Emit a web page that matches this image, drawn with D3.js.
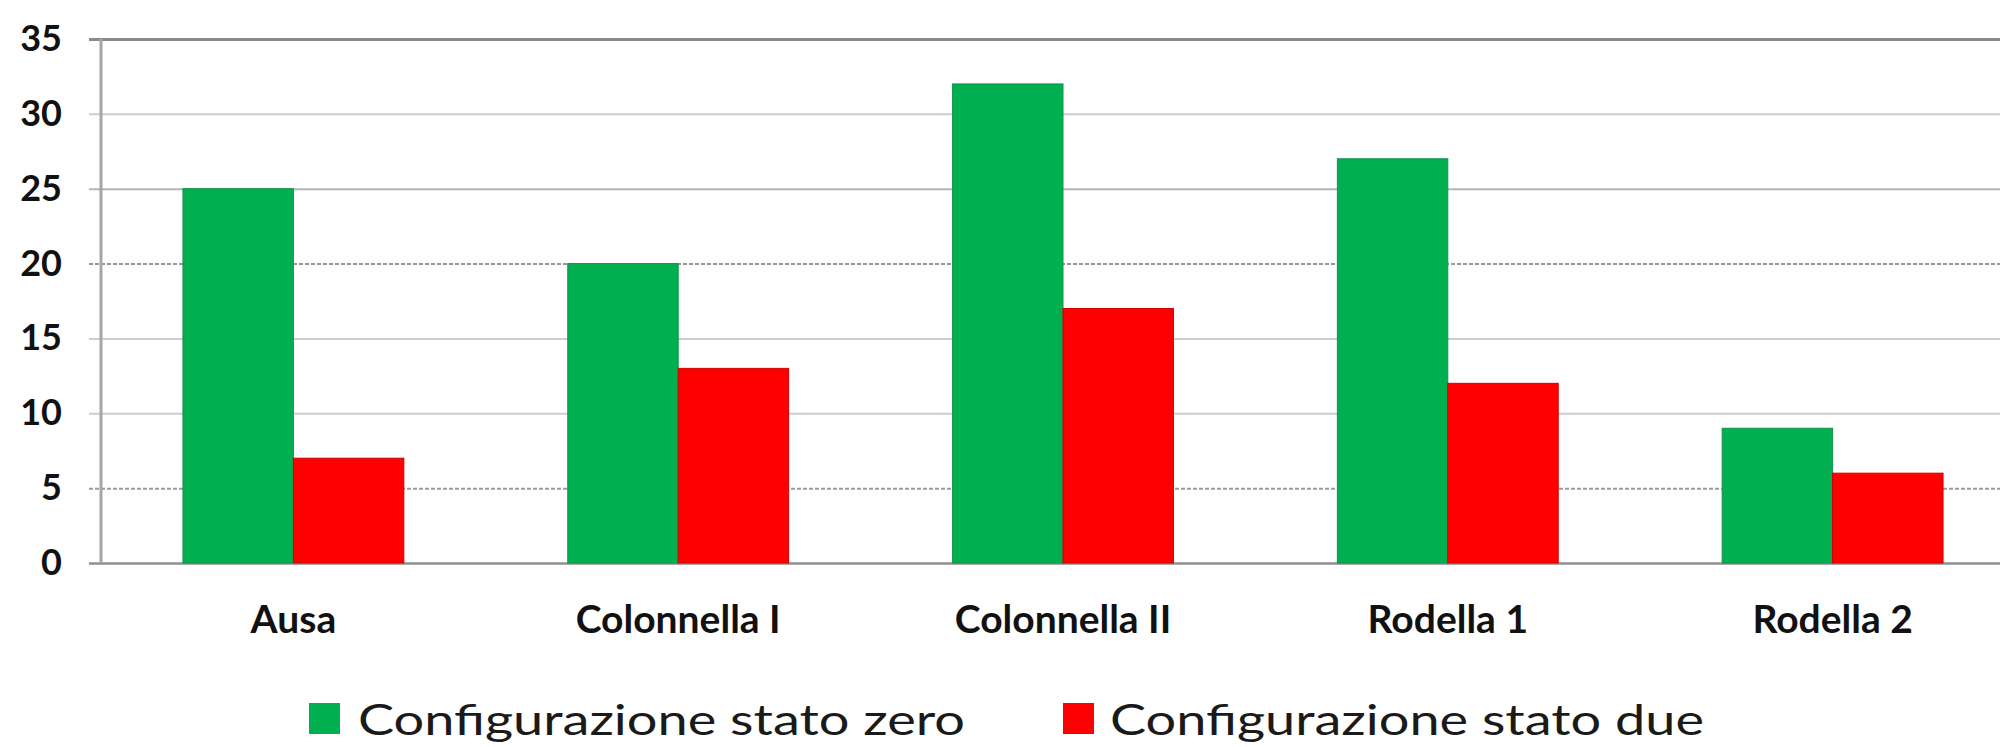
<!DOCTYPE html>
<html>
<head>
<meta charset="utf-8">
<script src="https://cdn.jsdelivr.net/npm/d3@7"></script>
<style>
  html, body { margin: 0; padding: 0; background: #fff; }
  svg { display: block; }
</style>
</head>
<body>
<svg id="chart" width="2000" height="747"></svg>
<script>
// Site names along the category axis
const categories = ["Ausa", "Colonnella I", "Colonnella II", "Rodella 1", "Rodella 2"];
// Series names (legend order)
const seriesNames = ["Configurazione stato zero", "Configurazione stato due"];
// Values per site for each configuration
const statoZero = [25, 20, 32, 27, 9];
const statoDue = [7, 13, 17, 12, 6];
// Value axis ticks
const yTicks = [0, 5, 10, 15, 20, 25, 30, 35];

const colors = ["#00b050", "#ff0000"];
const strokes = ["#12924a", "#d00000"];

const svg = d3.select("#chart");

const plot = { left: 101, right: 2025, top: 39, bottom: 563 };

const y = d3.scaleLinear().domain([0, 35]).range([plot.bottom, plot.top]);

const x0 = d3.scaleBand()
  .domain(categories)
  .range([plot.left, plot.right])
  .paddingInner(0.426)
  .paddingOuter(0.213);

const x1 = d3.scaleBand()
  .domain(seriesNames)
  .range([0, x0.bandwidth()])
  .padding(0);

// Horizontal grid lines with their small outward ticks, plus value labels
const tickStart = 89;
const yAxis = d3.axisLeft(y)
  .tickValues(yTicks)
  .tickSize(-(plot.right - tickStart))
  .tickPadding(27)
  .tickFormat(d3.format("d"));

const gy = svg.append("g")
  .attr("transform", `translate(${tickStart},0)`)
  .call(yAxis);
gy.select(".domain").remove();
gy.selectAll(".tick line")
  .attr("stroke", d => d === 35 ? "#8a8a8a" : (d === 20 || d === 5) ? "#9a9a9a" : (d === 25 ? "#b4b4b4" : "#cdcdcd"))
  .attr("stroke-width", d => d === 35 ? 3 : (d === 0 ? 2.5 : 2))
  .attr("stroke-dasharray", d => (d === 20 || d === 5) ? "4,2" : null);
gy.selectAll(".tick").filter(d => d === 0).select("line").attr("stroke", "#8f8f8f");
gy.selectAll(".tick text")
  .attr("fill", "#111")
  .style("font-family", "Lato, 'Open Sans', sans-serif")
  .style("font-weight", "bold")
  .style("font-size", "36px");

// Vertical value-axis line
svg.append("line")
  .attr("x1", plot.left).attr("x2", plot.left)
  .attr("y1", y(35)).attr("y2", y(0))
  .attr("stroke", "#a6a6a6")
  .attr("stroke-width", 3);

// Bars
const rows = categories.map((c, i) => ({ cat: c, vals: [statoZero[i], statoDue[i]] }));

const groups = svg.append("g").selectAll("g")
  .data(rows)
  .join("g")
  .attr("transform", d => `translate(${x0(d.cat)},0)`);

groups.selectAll("rect")
  .data(d => d.vals.map((v, k) => ({ key: seriesNames[k], value: v, k })))
  .join("rect")
  .attr("x", d => x1(d.key))
  .attr("y", d => y(d.value))
  .attr("width", x1.bandwidth())
  .attr("height", d => y(0) - y(d.value))
  .attr("fill", d => colors[d.k])
  .attr("stroke", d => strokes[d.k])
  .attr("stroke-width", 1);

// Category labels
const xAxis = d3.axisBottom(x0).tickSize(0).tickPadding(42);
const gx = svg.append("g")
  .attr("transform", `translate(0,${plot.bottom})`)
  .call(xAxis);
gx.select(".domain").remove();
gx.selectAll(".tick text")
  .attr("fill", "#111")
  .style("font-family", "Lato, 'Open Sans', sans-serif")
  .style("font-weight", "bold")
  .style("font-size", "39px");

// Legend
const legendItems = [
  { name: seriesNames[0], color: colors[0], sx: 309, tx: 358, len: 607 },
  { name: seriesNames[1], color: colors[1], sx: 1063, tx: 1110, len: 594 }
];
const lg = svg.append("g");
lg.selectAll("rect")
  .data(legendItems)
  .join("rect")
  .attr("x", d => d.sx)
  .attr("y", 703)
  .attr("width", 31)
  .attr("height", 31)
  .attr("fill", d => d.color);
lg.selectAll("text")
  .data(legendItems)
  .join("text")
  .attr("x", d => d.tx)
  .attr("y", 735)
  .attr("textLength", d => d.len)
  .attr("lengthAdjust", "spacingAndGlyphs")
  .attr("fill", "#1a1a1a")
  .style("font-family", "Lato, 'Open Sans', sans-serif")
  .style("font-size", "42px")
  .text(d => d.name);
</script>
</body>
</html>
